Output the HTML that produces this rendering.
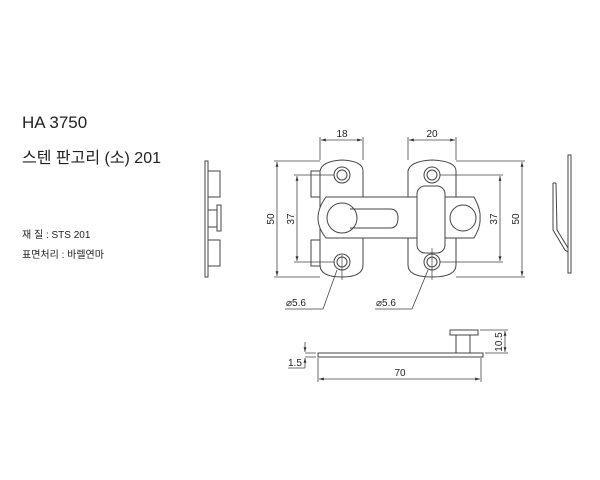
<!DOCTYPE html>
<html><head><meta charset="utf-8"><style>
html,body{margin:0;padding:0;background:#fff;width:600px;height:480px;overflow:hidden}
text{font-family:"Liberation Sans","Noto Sans CJK KR",sans-serif;fill:#222}
</style></head><body>
<svg width="600" height="480" viewBox="0 0 600 480" xmlns="http://www.w3.org/2000/svg">
<defs><marker id="a" viewBox="0 0 10 10" refX="10" refY="5" markerWidth="6" markerHeight="6" orient="auto-start-reverse"><path d="M0,2 L10,5 L0,8z" fill="#333"/></marker></defs>
<text x="22" y="128" font-size="17">HA 3750</text>
<text x="22" y="163" font-size="16">스텐 판고리 (소) 201</text>
<text x="22" y="238" font-size="10">재 질 : STS 201</text>
<text x="22" y="258" font-size="10">표면처리 : 바렐연마</text>
<g fill="none" stroke="#444" stroke-width="1">
<!-- left side view -->
<rect x="205" y="161" width="3" height="116"/>
<rect x="208" y="171" width="12" height="26"/>
<rect x="208" y="210" width="9" height="17"/>
<rect x="217" y="205" width="4" height="26"/>
<rect x="208" y="240" width="12" height="26"/>
<!-- left plate -->
<rect x="311" y="171" width="9" height="26"/>
<rect x="311" y="240" width="9" height="26"/>
<path d="M320,171 Q322,161 342,160 Q363,161 363,171 L363,265 Q363,277 342,277 Q320,277 320,265Z"/>
<circle cx="342" cy="175" r="8"/><circle cx="342" cy="175" r="5"/>
<circle cx="342" cy="262" r="8"/><circle cx="342" cy="262" r="5"/>
<!-- right plate -->
<path d="M408,171 Q410,161 432,160 Q456,161 456,171 L456,265 Q456,277 432,277 Q408,277 408,265Z"/>
<circle cx="432" cy="175" r="8"/><circle cx="432" cy="175" r="5"/>
<circle cx="432" cy="262" r="8"/><circle cx="432" cy="262" r="5"/>
<!-- bar -->
<path d="M326,197 L474,197 Q481,210 480,218 Q481,226 474,238 L326,238 Q318,228 318,218 Q318,208 326,197Z" fill="#fff"/>
<circle cx="342" cy="218" r="15"/>
<path d="M350,209 L390,209 Q398,209 398,218 Q398,228 390,228 L350,228"/>
<circle cx="463" cy="218" r="13"/>
<rect x="417" y="186" width="28" height="67" rx="8" fill="#fff"/>
<!-- center lines -->
<path d="M342,255 L342,280 M432,248 L432,280" stroke-width="0.7"/>
<!-- right side view -->
<rect x="568" y="155" width="3" height="118"/>
<path d="M553,183 L553,230 L565,250 L568,252 M556,183 L557,230 L568,248"/>
<path d="M553,183 L556,183"/>
<!-- dims -->
<g stroke-width="0.8">
<path d="M320,160 L320,137 M363,160 L363,137"/>
<path d="M321,140 L362,140" marker-start="url(#a)" marker-end="url(#a)"/>
<path d="M408,160 L408,137 M456,160 L456,137"/>
<path d="M409,140 L455,140" marker-start="url(#a)" marker-end="url(#a)"/>
<path d="M274,161 L320,161 M274,277 L320,277"/>
<path d="M277,162 L277,276" marker-start="url(#a)" marker-end="url(#a)"/>
<path d="M294,175 L334,175 M294,262 L334,262"/>
<path d="M297,176 L297,261" marker-start="url(#a)" marker-end="url(#a)"/>
<path d="M440,175 L503,175 M440,262 L503,262"/>
<path d="M500,176 L500,261" marker-start="url(#a)" marker-end="url(#a)"/>
<path d="M456,161 L525,161 M456,277 L525,277"/>
<path d="M522,162 L522,276" marker-start="url(#a)" marker-end="url(#a)"/>
<path d="M285,309 L323,309 L337,270" />
<path d="M375,309 L412,309 L428,270"/>
</g>
<!-- bottom view -->
<rect x="318" y="353" width="165" height="4"/>
<rect x="456" y="335" width="14" height="18"/>
<rect x="450" y="330" width="28" height="5"/>
<g stroke-width="0.8">
<path d="M318,358 L318,382 M481,358 L481,382"/>
<path d="M319,379 L480,379" marker-start="url(#a)" marker-end="url(#a)"/>
<path d="M305,353 L316,353 M305,357 L316,357"/>
<path d="M305,342 L305,352" marker-end="url(#a)"/>
<path d="M305,368 L305,358" marker-end="url(#a)"/>
<path d="M288,368 L305,368"/>
<path d="M480,330 L508,330 M485,353 L508,353"/>
<path d="M505,331 L505,352" marker-start="url(#a)" marker-end="url(#a)"/>
</g>
</g>
<g font-size="10">
<text x="342" y="137" text-anchor="middle">18</text>
<text x="432" y="137" text-anchor="middle">20</text>
<text transform="translate(274,219) rotate(-90)" text-anchor="middle">50</text>
<text transform="translate(294,219) rotate(-90)" text-anchor="middle">37</text>
<text transform="translate(497,219) rotate(-90)" text-anchor="middle">37</text>
<text transform="translate(519,219) rotate(-90)" text-anchor="middle">50</text>
<text x="286" y="306">⌀5.6</text>
<text x="376" y="306">⌀5.6</text>
<text x="400" y="376" text-anchor="middle">70</text>
<text x="288" y="366">1.5</text>
<text transform="translate(502,342) rotate(-90)" text-anchor="middle">10.5</text>
</g>
</svg>
</body></html>
